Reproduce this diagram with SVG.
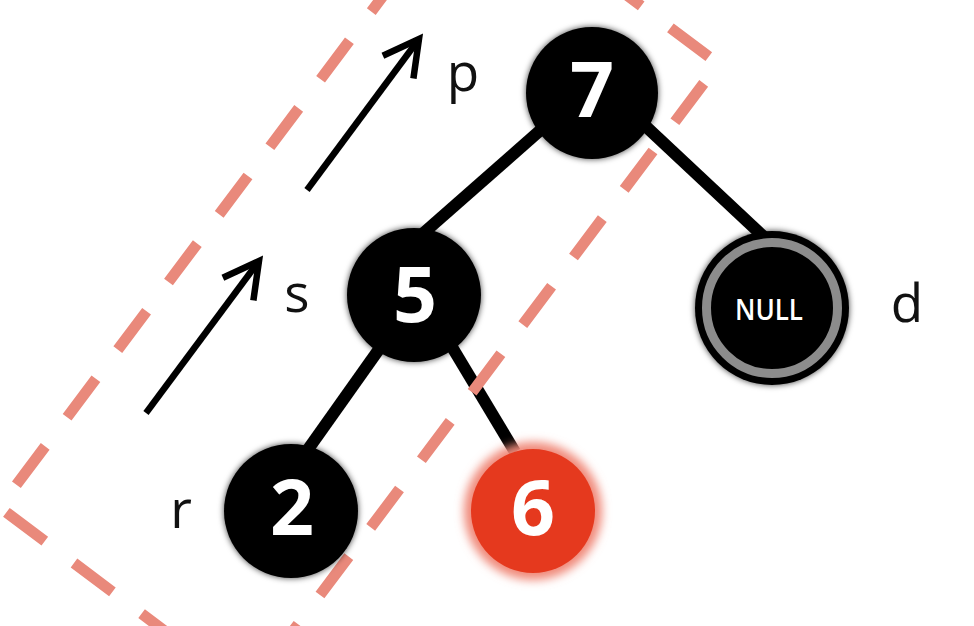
<svg xmlns="http://www.w3.org/2000/svg" width="974" height="626" viewBox="0 0 974 626">
<style>
.edge{stroke:#000;stroke-width:12;stroke-linecap:butt}
.arrow{stroke:#000;stroke-width:6.5;fill:none}
.lbl{font-family:"Open Sans","Noto Sans",sans-serif;font-size:53px;fill:#111}
.num{font-family:"Open Sans","Noto Sans",sans-serif;font-weight:bold;font-size:77px;fill:#fff;text-anchor:middle}
.blk{fill:#000}
</style>
<defs>
<filter id="sh" x="-20%" y="-20%" width="140%" height="140%">
<feDropShadow dx="0" dy="0" stdDeviation="3" flood-color="#000" flood-opacity="0.75"/>
</filter>
<filter id="glow" x="-30%" y="-30%" width="160%" height="160%">
<feGaussianBlur stdDeviation="5"/>
</filter>
<marker id="ah" markerUnits="userSpaceOnUse" markerWidth="60" markerHeight="60" refX="0" refY="0" viewBox="-40 -30 50 60" orient="auto">
<path d="M-35,-19 L0,0 L-35,19" fill="none" stroke="#000" stroke-width="6.5" stroke-linejoin="miter"/>
</marker>
</defs>
<rect width="974" height="626" fill="#fff"/>
<g id="connectors">
<line class="edge" x1="544" y1="127" x2="419" y2="237"/>
<line class="edge" x1="639" y1="120" x2="764" y2="237"/>
<line class="edge" x1="382" y1="345" x2="304" y2="455"/>
<line class="edge" x1="449" y1="342" x2="515" y2="452"/>
</g>
<g id="group-box">
<rect x="304" y="-380" width="309" height="786" transform="rotate(36.87)" fill="none" stroke="#E9897B" stroke-width="11" stroke-dasharray="48 36.5" stroke-dashoffset="4.5"/>
</g>
<g id="arrows">
<line class="arrow" x1="307" y1="190" x2="419" y2="39" marker-end="url(#ah)"/>
<line class="arrow" x1="146" y1="413" x2="259" y2="261" marker-end="url(#ah)"/>
</g>
<g id="node-7">
<circle class="blk" cx="592" cy="93" r="66" filter="url(#sh)"/>
<text class="num" x="592" y="117">7</text>
</g>
<g id="node-5">
<circle class="blk" cx="414" cy="295" r="67" filter="url(#sh)"/>
<text class="num" x="415" y="322">5</text>
</g>
<g id="node-2">
<circle class="blk" cx="291" cy="511" r="67" filter="url(#sh)"/>
<text class="num" x="292" y="535">2</text>
</g>
<g id="node-6">
<circle cx="533" cy="511" r="69" fill="#F08A7A" filter="url(#glow)"/>
<circle cx="533" cy="511" r="62" fill="#E5391E"/>
<text class="num" x="533" y="535">6</text>
</g>
<g id="node-null">
<circle class="blk" cx="772" cy="308" r="77" filter="url(#sh)"/>
<circle cx="772" cy="308" r="65.5" fill="none" stroke="#8C8C8C" stroke-width="9"/>
<text x="769" y="320" font-family="Open Sans,'Noto Sans',sans-serif" font-weight="600" font-size="29" fill="#fff" text-anchor="middle" textLength="68" lengthAdjust="spacingAndGlyphs">NULL</text>
</g>
<g id="labels">
<text class="lbl" x="463" y="91" text-anchor="middle">p</text>
<text class="lbl" x="297" y="312" text-anchor="middle">s</text>
<text class="lbl" x="181" y="528" text-anchor="middle">r</text>
<text class="lbl" x="907" y="322" text-anchor="middle">d</text>
</g>
</svg>
